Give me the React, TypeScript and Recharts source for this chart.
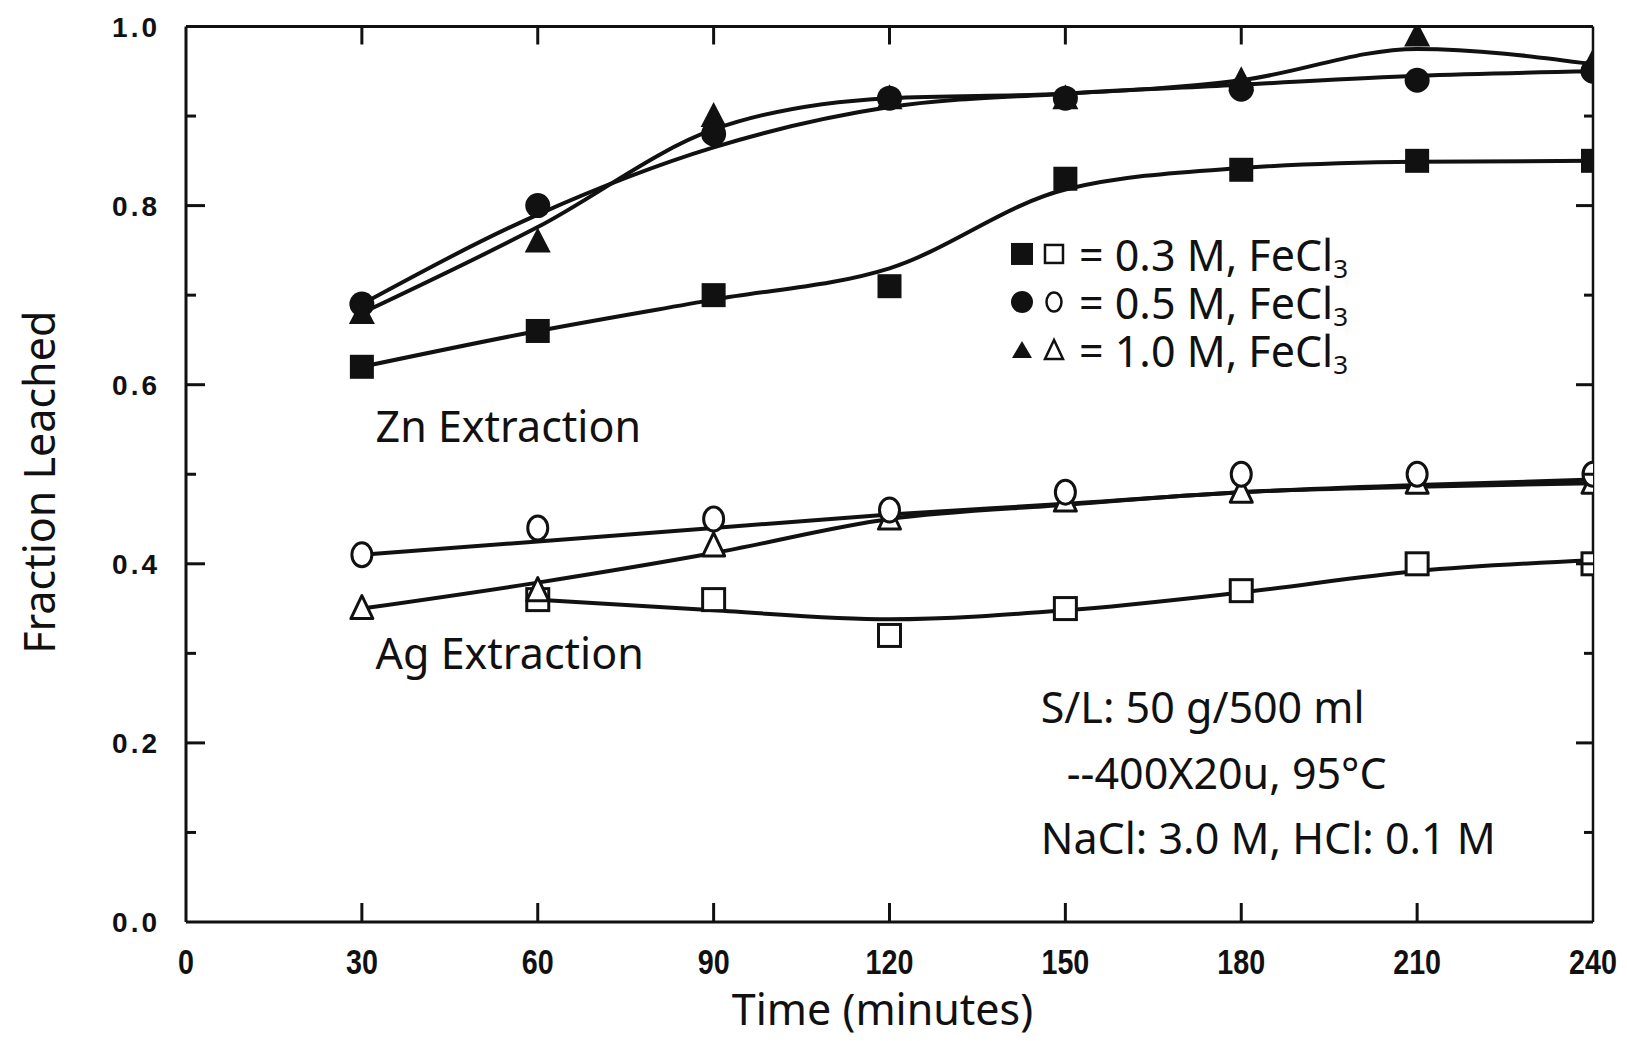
import React from 'react';
import { ComposedChart, Line, XAxis, YAxis, ReferenceDot } from 'recharts';

// ---------- data ----------
const times = [30, 60, 90, 120, 150, 180, 210, 240];

// measured points (Zn: filled markers, Ag: open markers)
const zn03 = [0.62, 0.66, 0.70, 0.71, 0.83, 0.84, 0.85, 0.85];
const zn05 = [0.69, 0.80, 0.88, 0.92, 0.92, 0.93, 0.94, 0.95];
const zn10 = [0.68, 0.76, 0.90, 0.92, 0.92, 0.94, 0.99, 0.96];
const ag03 = [null, 0.36, 0.36, 0.32, 0.35, 0.37, 0.40, 0.40];
const ag05 = [0.41, 0.44, 0.45, 0.46, 0.48, 0.50, 0.50, 0.50];
const ag10 = [0.35, 0.37, 0.42, 0.45, 0.47, 0.48, 0.49, 0.49];

// smoothed curves as drawn in the picture (read at the same times)
const zn03Fit = [0.62, 0.66, 0.695, 0.73, 0.818, 0.842, 0.849, 0.85];
const zn05Fit = [0.69, 0.79, 0.865, 0.91, 0.925, 0.935, 0.945, 0.95];
const zn10Fit = [0.68, 0.776, 0.885, 0.92, 0.925, 0.94, 0.975, 0.958];
const ag03Fit = [null, 0.36, 0.348, 0.338, 0.348, 0.368, 0.392, 0.404];
const ag05Fit = [0.41, 0.425, 0.44, 0.455, 0.467, 0.48, 0.488, 0.494];
const ag10Fit = [0.35, 0.379, 0.412, 0.45, 0.466, 0.48, 0.486, 0.49];

const xTicks = [0, 30, 60, 90, 120, 150, 180, 210, 240];
const xInnerTicks = [30, 60, 90, 120, 150, 180, 210];
const yLabelTicks = [0, 0.2, 0.4, 0.6, 0.8, 1.0];
const yAllTicks = [0, 0.1, 0.2, 0.3, 0.4, 0.5, 0.6, 0.7, 0.8, 0.9, 1.0];
const yMajorInner = [0.2, 0.4, 0.6, 0.8];
const yMinorInner = [0.1, 0.3, 0.5, 0.7, 0.9];
const yInnerTicks = [0.1, 0.2, 0.3, 0.4, 0.5, 0.6, 0.7, 0.8, 0.9];

const legendLabels = ['0.3 M, FeCl', '0.5 M, FeCl', '1.0 M, FeCl'];
const conditionLines = ['S/L: 50 g/500 ml', '--400X20u, 95°C', 'NaCl: 3.0 M, HCl: 0.1 M'];
const xTitle = 'Time (minutes)';
const yTitle = 'Fraction Leached';

const data = times.map((t, i) => ({
  t,
  zn03: zn03[i], zn05: zn05[i], zn10: zn10[i],
  ag03: ag03[i], ag05: ag05[i], ag10: ag10[i],
  zn03Fit: zn03Fit[i], zn05Fit: zn05Fit[i], zn10Fit: zn10Fit[i],
  ag03Fit: ag03Fit[i], ag05Fit: ag05Fit[i], ag10Fit: ag10Fit[i],
}));

// ---------- styles ----------
const INK = '#111';
const FONT = "'Noto Sans', 'DejaVu Sans', sans-serif";
const TICK_FONT = "'Liberation Sans', Arial, sans-serif";

const key1 = (v: any) => Number(v).toFixed(1);
const isIn = (arr: number[], v: any) => arr.some((a) => key1(a) === key1(v));

const ok = (p: any) =>
  p && p.cx != null && p.cy != null && p.value != null && !Number.isNaN(+p.cx) && !Number.isNaN(+p.cy);

const filledSquare = (p: any) =>
  ok(p) ? <rect key={p.index} x={p.cx - 12} y={p.cy - 12} width={24} height={24} fill={INK} /> : <g key={p.index} />;
const filledCircle = (p: any) =>
  ok(p) ? <circle key={p.index} cx={p.cx} cy={p.cy} r={12.5} fill={INK} /> : <g key={p.index} />;
const filledTriangle = (p: any) =>
  ok(p) ? (
    <polygon key={p.index} points={`${p.cx},${p.cy - 14} ${p.cx - 13},${p.cy + 11} ${p.cx + 13},${p.cy + 11}`} fill={INK} />
  ) : <g key={p.index} />;
const openSquare = (p: any) =>
  ok(p) ? (
    <rect key={p.index} x={p.cx - 11} y={p.cy - 11} width={22} height={22} fill="#fff" stroke={INK} strokeWidth={3} />
  ) : <g key={p.index} />;
const openCircle = (p: any) =>
  ok(p) ? (
    <ellipse key={p.index} cx={p.cx} cy={p.cy} rx={10} ry={12} fill="#fff" stroke={INK} strokeWidth={3} />
  ) : <g key={p.index} />;
const openTriangle = (p: any) =>
  ok(p) ? (
    <polygon key={p.index} points={`${p.cx},${p.cy - 13} ${p.cx - 11},${p.cy + 10} ${p.cx + 11},${p.cy + 10}`} fill="#fff" stroke={INK} strokeWidth={3} strokeLinejoin="round" />
  ) : <g key={p.index} />;

// ---------- ticks & labels ----------
// bottom axis: label below, inward tick line above the axis
const XTick = (p: any) => {
  const v = p.payload.value;
  return (
    <g>
      {xInnerTicks.includes(v) && <line x1={p.x} x2={p.x} y1={p.y} y2={p.y - 19} stroke={INK} strokeWidth={3} />}
      <g transform={`translate(${p.x},${p.y + 52}) scale(0.82,1)`}>
        <text textAnchor="middle" fontFamily={TICK_FONT} fontWeight="bold" fontSize={35} fill={INK}>
          {v}
        </text>
      </g>
    </g>
  );
};

// top axis: inward tick lines only
const TopTick = (p: any) => (
  <line x1={p.x} x2={p.x} y1={p.y} y2={p.y + 18} stroke={INK} strokeWidth={3} />
);

// left axis: labels on major, inward ticks long (major) or short (minor)
const YTick = (p: any) => {
  const v = p.payload.value;
  const len = isIn(yMajorInner, v) ? 19 : isIn(yMinorInner, v) ? 10 : 0;
  return (
    <g>
      {len > 0 && <line x1={p.x} x2={p.x + len} y1={p.y} y2={p.y} stroke={INK} strokeWidth={3} />}
      {isIn(yLabelTicks, v) && (
        <text x={p.x - 26} y={p.y + 10} textAnchor="end" fontFamily={TICK_FONT} fontWeight="bold" fontSize={28} letterSpacing={3} fill={INK}>
          {key1(v)}
        </text>
      )}
    </g>
  );
};

// right axis: inward ticks only
const RightTick = (p: any) => {
  const v = p.payload.value;
  const len = isIn(yMajorInner, v) ? 17 : 9;
  return <line x1={p.x} x2={p.x - len} y1={p.y} y2={p.y} stroke={INK} strokeWidth={3} />;
};

const TimeLabel = (props: any) => {
  const vb = props.viewBox || { x: 178, y: 914, width: 1407, height: 100 };
  return (
    <text x={vb.x + vb.width / 2 - 7} y={vb.y + 103} textAnchor="middle" fontFamily={FONT} fontSize={43} fill={INK}>
      {xTitle}
    </text>
  );
};

const FracLabel = (props: any) => {
  const vb = props.viewBox || { x: 58, y: 18.5, width: 120, height: 895.5 };
  const cy = vb.y + vb.height / 2 + 8;
  const x = 47;
  return (
    <text x={x} y={cy} transform={`rotate(-90, ${x}, ${cy})`} textAnchor="middle" fontFamily={FONT} fontSize={43} fill={INK}>
      {yTitle}
    </text>
  );
};

const PlainText = (txt: string) => (props: any) => {
  const vb = props.viewBox || { x: 0, y: 0 };
  return (
    <text x={vb.x} y={vb.y} fontFamily={FONT} fontSize={43} fill={INK}>
      {txt}
    </text>
  );
};

const LegendBlock = (props: any) => {
  const vb = props.viewBox || { x: 0, y: 0 };
  const x = vb.x;
  const y = vb.y;
  const markers = [
    (cx: number, cy: number) => (
      <g>
        <rect x={cx - 11} y={cy - 11} width={22} height={22} fill={INK} />
        <rect x={cx + 32 - 9} y={cy - 9} width={18} height={18} fill="#fff" stroke={INK} strokeWidth={2.5} />
      </g>
    ),
    (cx: number, cy: number) => (
      <g>
        <circle cx={cx} cy={cy} r={11} fill={INK} />
        <ellipse cx={cx + 32} cy={cy} rx={7.5} ry={9.5} fill="#fff" stroke={INK} strokeWidth={2.5} />
      </g>
    ),
    (cx: number, cy: number) => (
      <g>
        <polygon points={`${cx},${cy - 9} ${cx - 10},${cy + 8} ${cx + 10},${cy + 8}`} fill={INK} />
        <polygon points={`${cx + 32},${cy - 10} ${cx + 32 - 9},${cy + 9} ${cx + 32 + 9},${cy + 9}`} fill="#fff" stroke={INK} strokeWidth={2.5} />
      </g>
    ),
  ];
  return (
    <g>
      {legendLabels.map((lab, i) => {
        const cy = y + i * 48;
        return (
          <g key={lab}>
            {markers[i](x, cy)}
            <text x={x + 57} y={cy + 17} fontFamily={FONT} fontSize={43} fill={INK}>
              {'= ' + lab}
              <tspan fontSize={26} dy={7}>3</tspan>
            </text>
          </g>
        );
      })}
    </g>
  );
};

const ConditionsBlock = (props: any) => {
  const vb = props.viewBox || { x: 0, y: 0 };
  const dx = [0, 26, 0];
  const dy = [0, 65.6, 131];
  return (
    <g>
      {conditionLines.map((s, i) => (
        <text key={s} x={vb.x + dx[i]} y={vb.y + dy[i]} fontFamily={FONT} fontSize={43} fill={INK}>
          {s}
        </text>
      ))}
    </g>
  );
};

export default function App() {
  const curve = (key: string) => (
    <Line
      key={key}
      xAxisId="x"
      yAxisId="y"
      type="monotone"
      dataKey={key}
      stroke={INK}
      strokeWidth={4}
      dot={false}
      activeDot={false}
      connectNulls
      isAnimationActive={false}
      legendType="none"
    />
  );
  const marks = (key: string, shape: any) => (
    <Line
      key={key}
      xAxisId="x"
      yAxisId="y"
      dataKey={key}
      stroke="none"
      fill="none"
      dot={shape}
      activeDot={false}
      isAnimationActive={false}
      legendType="none"
    />
  );
  return (
    <div style={{ width: 1619, height: 1033 }}>
      <ComposedChart width={1619} height={1033} data={data} margin={{ top: 8.5, right: 24, bottom: 19, left: 58 }}>
        <XAxis
          xAxisId="x"
          dataKey="t"
          type="number"
          domain={[0, 240]}
          allowDataOverflow
          ticks={xTicks}
          interval={0}
          height={100}
          tickLine={false}
          tickSize={0}
          tickMargin={0}
          axisLine={{ stroke: INK, strokeWidth: 3 }}
          tick={XTick}
          label={TimeLabel}
        />
        <XAxis
          xAxisId="xt"
          dataKey="t"
          orientation="top"
          height={10}
          type="number"
          domain={[0, 240]}
          allowDataOverflow
          ticks={xInnerTicks}
          interval={0}
          tickLine={false}
          tickSize={0}
          tickMargin={0}
          axisLine={{ stroke: INK, strokeWidth: 3 }}
          tick={TopTick}
        />
        <YAxis
          yAxisId="y"
          type="number"
          domain={[0, 1]}
          allowDataOverflow
          ticks={yAllTicks}
          interval={0}
          width={120}
          tickLine={false}
          tickSize={0}
          tickMargin={0}
          axisLine={{ stroke: INK, strokeWidth: 3 }}
          tick={YTick}
          label={FracLabel}
        />
        <YAxis
          yAxisId="yr"
          orientation="right"
          width={10}
          type="number"
          domain={[0, 1]}
          allowDataOverflow
          ticks={yInnerTicks}
          interval={0}
          tickLine={false}
          tickSize={0}
          tickMargin={0}
          axisLine={{ stroke: INK, strokeWidth: 2.5 }}
          tick={RightTick}
        />

        {/* invisible helper so the top/right frame axes carry data */}
        <Line xAxisId="xt" yAxisId="yr" dataKey="zn03" stroke="none" dot={false} activeDot={false} isAnimationActive={false} legendType="none" />

        {curve('zn03Fit')}
        {curve('zn05Fit')}
        {curve('zn10Fit')}
        {curve('ag03Fit')}
        {curve('ag05Fit')}
        {curve('ag10Fit')}

        {marks('ag03', openSquare)}
        {marks('ag10', openTriangle)}
        {marks('ag05', openCircle)}
        {marks('zn03', filledSquare)}
        {marks('zn10', filledTriangle)}
        {marks('zn05', filledCircle)}

        <ReferenceDot xAxisId="x" yAxisId="y" x={32.34} y={0.536} r={0} fill="none" stroke="none" label={PlainText('Zn Extraction')} />
        <ReferenceDot xAxisId="x" yAxisId="y" x={32.34} y={0.2825} r={0} fill="none" stroke="none" label={PlainText('Ag Extraction')} />
        <ReferenceDot xAxisId="x" yAxisId="y" x={142.6} y={0.746} r={0} fill="none" stroke="none" label={LegendBlock} />
        <ReferenceDot xAxisId="x" yAxisId="y" x={145.8} y={0.2222} r={0} fill="none" stroke="none" label={ConditionsBlock} />
      </ComposedChart>
    </div>
  );
}
